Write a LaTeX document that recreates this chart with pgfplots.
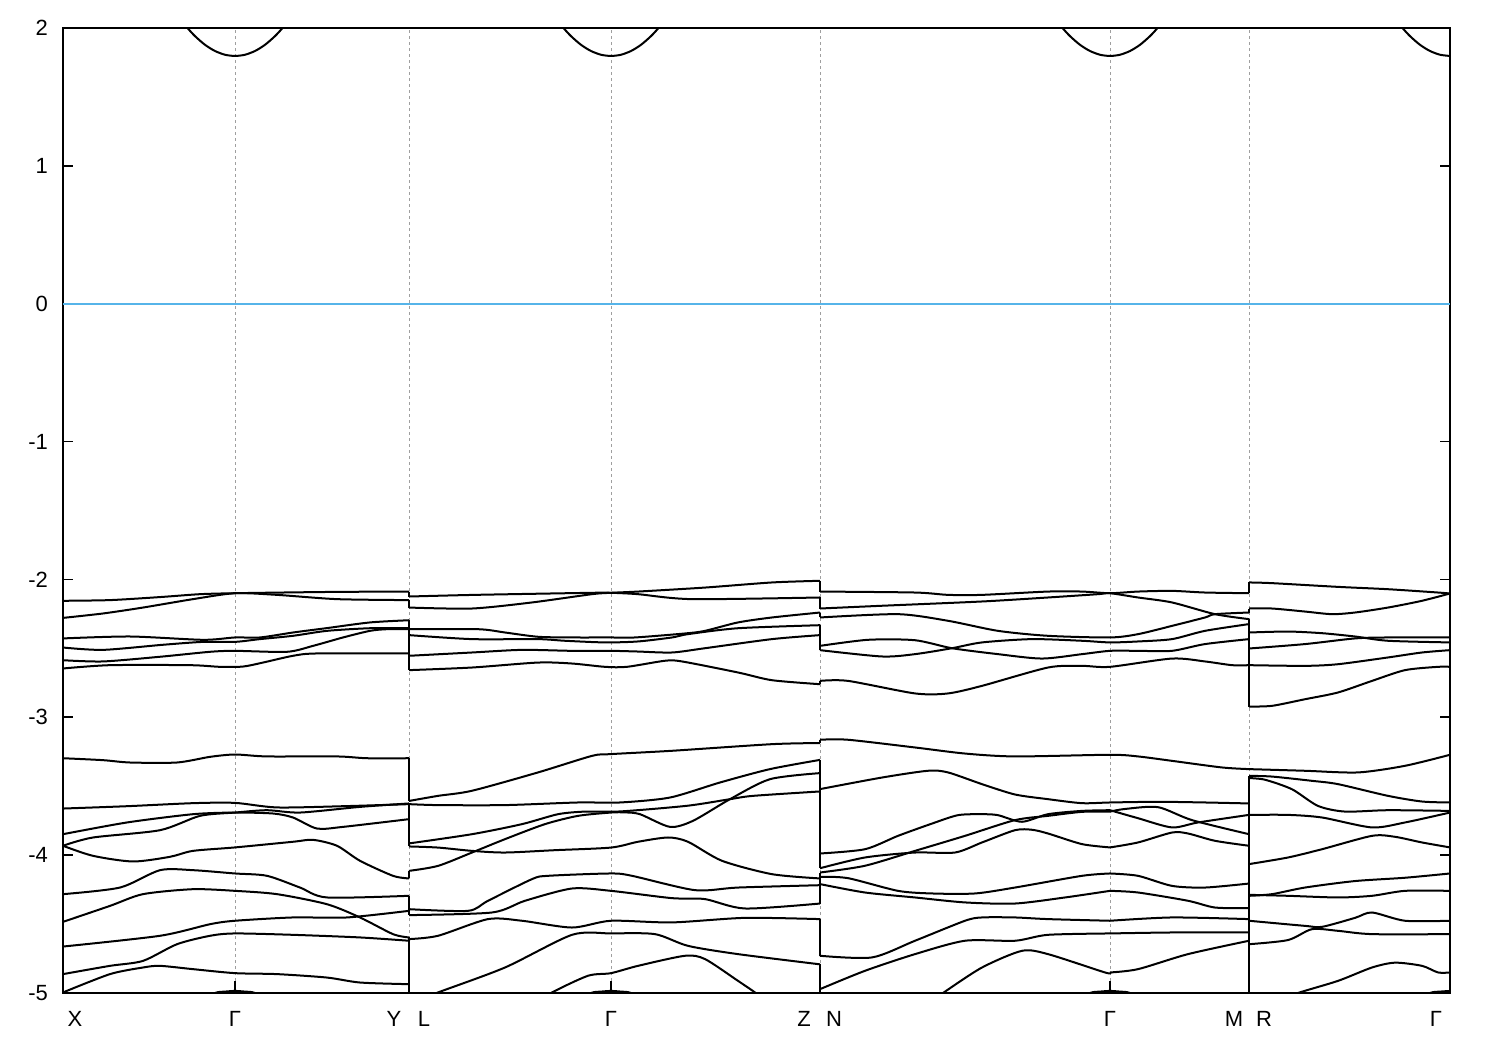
\documentclass[border=0pt]{standalone}
\usepackage{fontspec}
\setmainfont{Liberation Sans}
\usepackage{pgfplots}
\pgfplotsset{compat=1.18}
\definecolor{zeroblue}{RGB}{86,180,233}
\begin{document}
\begin{tikzpicture}
\begin{axis}[
  name=ax,
  scale only axis,
  width=693.5pt, height=482.5pt,
  xmin=63, xmax=1450, ymin=-5, ymax=2,
  axis line style={line width=1.1pt},
  tick style={black, line width=0.8pt},
  tick align=inside,
  ytick={-5,-4,-3,-2,-1,0,1,2},
  yticklabels={-5,-4,-3,-2,-1,0,1,2},
  ytick pos=both,
  major tick length=5pt,
  xtick={75,235,394,424,611,804,834,1110,1234,1264,1436},
  xticklabels={X,Γ,Y,L,Γ,Z,N,Γ,M,R,Γ},
  xtick pos=bottom,
  x tick style={draw=none},
  extra x ticks={235,409,611,820,1110,1249},
  extra x tick labels={},
  extra x tick style={grid=major, x tick style={draw=black, line width=0.8pt}, major tick length=6pt},
  major grid style={draw=gray!75, dash pattern=on 1.5pt off 1.5pt, line width=0.5pt},
  tick label style={font=\fontsize{11}{13}\selectfont},
  xticklabel style={yshift=-5.5pt},
  yticklabel style={xshift=-4pt},
  band/.style={black, line width=1pt, line join=round, smooth, tension=0.45},
  conn/.style={black, line width=1pt},
]
\addplot[zeroblue, line width=0.8pt] coordinates {(63,0)(1450,0)};
% conduction band parabolas
\addplot[band] coordinates {(180,2.07)(187.5,2.0)(195,1.941)(205,1.878)(215,1.833)(225,1.806)(235,1.797)(245,1.806)(255,1.833)(265,1.878)(275,1.941)(282.5,2.0)(290,2.07)};
\addplot[band] coordinates {(556,2.07)(563.5,2.0)(571,1.941)(581,1.878)(591,1.833)(601,1.806)(611,1.797)(621,1.806)(631,1.833)(641,1.878)(651,1.941)(658.5,2.0)(666,2.07)};
\addplot[band] coordinates {(1055,2.07)(1062.5,2.0)(1070,1.941)(1080,1.878)(1090,1.833)(1100,1.806)(1110,1.797)(1120,1.806)(1130,1.833)(1140,1.878)(1150,1.941)(1157.5,2.0)(1165,2.07)};
\addplot[band] coordinates {(1395,2.07)(1402.5,2.0)(1410,1.941)(1420,1.878)(1430,1.833)(1440,1.806)(1450,1.797)};
% ---------- segment X-Gamma-Y
\addplot[band] coordinates {(63,-2.155)(110,-2.150)(160,-2.128)(200,-2.107)(235,-2.100)(293,-2.094)(343,-2.090)(409,-2.088)};
\addplot[band] coordinates {(63,-2.279)(103,-2.247)(143,-2.204)(193,-2.143)(235,-2.100)(277,-2.112)(337,-2.143)(409,-2.150)};
\addplot[band] coordinates {(63,-2.428)(130,-2.414)(203,-2.438)(235,-2.421)(260,-2.421)(293,-2.385)(327,-2.353)(370,-2.312)(409,-2.296)};
\addplot[band] coordinates {(63,-2.494)(103,-2.511)(163,-2.474)(203,-2.453)(235,-2.453)(260,-2.433)(293,-2.409)(327,-2.373)(370,-2.354)(409,-2.354)};
\addplot[band] coordinates {(63,-2.586)(103,-2.595)(160,-2.561)(210,-2.525)(235,-2.518)(287,-2.525)(313,-2.482)(343,-2.421)(370,-2.373)(387,-2.361)(409,-2.361)};
\addplot[band] coordinates {(63,-2.646)(110,-2.622)(190,-2.622)(220,-2.634)(243,-2.632)(263,-2.603)(293,-2.554)(317,-2.537)(409,-2.537)};
\addplot[band] coordinates {(63,-3.297)(103,-3.311)(130,-3.328)(177,-3.328)(210,-3.287)(235,-3.270)(267,-3.284)(337,-3.284)(367,-3.297)(409,-3.297)};
\addplot[band] coordinates {(63,-3.662)(127,-3.645)(193,-3.623)(235,-3.621)(277,-3.654)(343,-3.645)(409,-3.630)};
\addplot[band] coordinates {(63,-3.932)(93,-3.872)(160,-3.819)(200,-3.715)(235,-3.691)(267,-3.674)(300,-3.691)(360,-3.650)(409,-3.625)};
\addplot[band] coordinates {(63,-3.848)(127,-3.763)(193,-3.703)(235,-3.691)(273,-3.698)(293,-3.727)(317,-3.807)(343,-3.795)(409,-3.739)};
\addplot[band] coordinates {(63,-3.932)(93,-4.005)(133,-4.046)(170,-4.012)(193,-3.969)(235,-3.944)(293,-3.903)(313,-3.889)(337,-3.932)(360,-4.041)(393,-4.150)(409,-4.169)};
\addplot[band] coordinates {(63,-4.283)(120,-4.235)(160,-4.109)(193,-4.109)(235,-4.133)(267,-4.150)(300,-4.235)(327,-4.307)(409,-4.295)};
\addplot[band] coordinates {(63,-4.484)(110,-4.368)(143,-4.283)(193,-4.247)(235,-4.259)(277,-4.283)(327,-4.356)(360,-4.452)(393,-4.573)(409,-4.597)};
\addplot[band] coordinates {(63,-4.663)(160,-4.585)(210,-4.501)(235,-4.476)(293,-4.452)(347,-4.452)(409,-4.404)};
\addplot[band] coordinates {(63,-4.863)(110,-4.803)(143,-4.767)(177,-4.646)(210,-4.585)(235,-4.568)(293,-4.578)(360,-4.597)(409,-4.621)};
\addplot[band] coordinates {(63,-4.996)(110,-4.863)(143,-4.815)(160,-4.803)(193,-4.827)(235,-4.856)(277,-4.863)(327,-4.888)(360,-4.924)(409,-4.936)};
\addplot[band] coordinates {(195,-5.08)(215,-5.0)(225,-4.99)(235,-4.985)(245,-4.99)(255,-5.0)(275,-5.08)};
% connectors at Y|L
\addplot[conn] coordinates {(409,-2.088)(409,-2.124)};
\addplot[conn] coordinates {(409,-2.150)(409,-2.204)};
\addplot[conn] coordinates {(409,-2.296)(409,-2.658)};
\addplot[conn] coordinates {(409,-3.297)(409,-3.607)};
\addplot[conn] coordinates {(409,-3.625)(409,-3.937)};
\addplot[conn] coordinates {(409,-4.114)(409,-4.169)};
\addplot[conn] coordinates {(409,-4.295)(409,-4.435)};
\addplot[conn] coordinates {(409,-4.597)(409,-5.0)};
% ---------- segment L-Gamma-Z
\addplot[band] coordinates {(409,-2.124)(475,-2.112)(592,-2.097)(611,-2.097)(638,-2.107)(692,-2.143)(820,-2.131)};
\addplot[band] coordinates {(409,-2.204)(472,-2.211)(532,-2.167)(592,-2.107)(611,-2.097)(638,-2.088)(705,-2.059)(772,-2.022)(820,-2.010)};
\addplot[band] coordinates {(409,-2.361)(478,-2.361)(505,-2.385)(538,-2.416)(572,-2.421)(611,-2.421)(635,-2.421)(685,-2.392)(705,-2.373)(738,-2.312)(772,-2.276)(820,-2.240)};
\addplot[band] coordinates {(409,-2.404)(472,-2.433)(538,-2.433)(565,-2.445)(605,-2.457)(638,-2.450)(672,-2.421)(688,-2.397)(738,-2.354)(820,-2.332)};
\addplot[band] coordinates {(409,-2.554)(472,-2.530)(522,-2.511)(572,-2.518)(611,-2.518)(638,-2.523)(672,-2.530)(705,-2.499)(772,-2.433)(820,-2.404)};
\addplot[band] coordinates {(409,-2.658)(472,-2.639)(538,-2.603)(572,-2.610)(605,-2.634)(627,-2.634)(665,-2.590)(682,-2.595)(738,-2.675)(772,-2.731)(820,-2.760)};
\addplot[band] coordinates {(409,-3.607)(438,-3.570)(472,-3.533)(538,-3.400)(592,-3.280)(611,-3.267)(672,-3.243)(772,-3.195)(820,-3.187)};
\addplot[band] coordinates {(409,-3.630)(438,-3.637)(505,-3.637)(578,-3.618)(620,-3.618)(670,-3.582)(720,-3.473)(770,-3.376)(820,-3.309)};
\addplot[band] coordinates {(409,-3.915)(472,-3.848)(522,-3.775)(558,-3.703)(585,-3.684)(620,-3.683)(687,-3.642)(730,-3.594)(753,-3.570)(820,-3.538)};
\addplot[band] coordinates {(409,-4.114)(438,-4.078)(472,-3.981)(505,-3.884)(545,-3.775)(578,-3.715)(611,-3.691)(625,-3.690)(640,-3.703)(670,-3.795)(693,-3.751)(730,-3.594)(770,-3.449)(820,-3.405)};
\addplot[band] coordinates {(409,-3.937)(438,-3.945)(472,-3.969)(505,-3.981)(555,-3.964)(611,-3.945)(638,-3.903)(668,-3.872)(688,-3.903)(722,-4.041)(772,-4.138)(820,-4.169)};
\addplot[band] coordinates {(409,-4.392)(468,-4.404)(488,-4.331)(532,-4.174)(548,-4.150)(611,-4.133)(632,-4.150)(695,-4.254)(738,-4.235)(820,-4.218)};
\addplot[band] coordinates {(409,-4.435)(492,-4.416)(525,-4.331)(572,-4.242)(611,-4.259)(672,-4.312)(705,-4.319)(745,-4.387)(820,-4.351)};
\addplot[band] coordinates {(409,-4.609)(438,-4.585)(488,-4.464)(522,-4.476)(572,-4.525)(611,-4.476)(672,-4.488)(745,-4.455)(820,-4.464)};
\addplot[band] coordinates {(409,-5.08)(438,-4.996)(505,-4.815)(572,-4.578)(611,-4.568)(655,-4.573)(688,-4.658)(738,-4.718)(820,-4.792)};
\addplot[band] coordinates {(535,-5.08)(552,-4.996)(588,-4.875)(611,-4.856)(638,-4.803)(685,-4.730)(705,-4.754)(738,-4.912)(755,-4.996)(770,-5.08)};
\addplot[band] coordinates {(571,-5.08)(591,-5.0)(601,-4.99)(611,-4.985)(621,-4.99)(631,-5.0)(651,-5.08)};
% connectors at Z|N
\addplot[conn] coordinates {(820,-2.010)(820,-2.088)};
\addplot[conn] coordinates {(820,-2.131)(820,-2.211)};
\addplot[conn] coordinates {(820,-2.240)(820,-2.276)};
\addplot[conn] coordinates {(820,-2.332)(820,-2.513)};
\addplot[conn] coordinates {(820,-2.736)(820,-2.760)};
\addplot[conn] coordinates {(820,-3.163)(820,-3.187)};
\addplot[conn] coordinates {(820,-3.309)(820,-4.095)};
\addplot[conn] coordinates {(820,-4.126)(820,-4.351)};
\addplot[conn] coordinates {(820,-4.464)(820,-4.730)};
\addplot[conn] coordinates {(820,-4.792)(820,-5.0)};
% ---------- segment N-Gamma-M
\addplot[band] coordinates {(820,-2.088)(915,-2.095)(948,-2.112)(982,-2.112)(1048,-2.088)(1082,-2.088)(1110,-2.100)(1138,-2.088)(1172,-2.083)(1205,-2.095)(1249,-2.100)};
\addplot[band] coordinates {(820,-2.211)(882,-2.191)(982,-2.160)(1048,-2.131)(1098,-2.107)(1110,-2.100)(1138,-2.131)(1172,-2.167)(1215,-2.252)(1249,-2.288)};
\addplot[band] coordinates {(820,-2.276)(898,-2.252)(948,-2.300)(998,-2.373)(1048,-2.409)(1110,-2.421)(1138,-2.397)(1172,-2.337)(1205,-2.276)(1215,-2.252)(1249,-2.240)};
\addplot[band] coordinates {(820,-2.482)(868,-2.438)(915,-2.441)(952,-2.499)(998,-2.542)(1042,-2.574)(1082,-2.542)(1110,-2.518)(1138,-2.518)(1172,-2.518)(1205,-2.469)(1249,-2.433)};
\addplot[band] coordinates {(820,-2.513)(882,-2.559)(915,-2.542)(952,-2.499)(982,-2.457)(1032,-2.433)(1082,-2.445)(1110,-2.457)(1138,-2.450)(1172,-2.433)(1205,-2.373)(1249,-2.324)};
\addplot[band] coordinates {(820,-2.736)(848,-2.736)(915,-2.827)(948,-2.827)(982,-2.772)(1048,-2.639)(1082,-2.627)(1110,-2.634)(1172,-2.574)(1205,-2.595)(1232,-2.622)(1249,-2.622)};
\addplot[band] coordinates {(820,-3.163)(848,-3.163)(915,-3.219)(965,-3.263)(1015,-3.284)(1110,-3.272)(1138,-3.284)(1172,-3.316)(1222,-3.364)(1249,-3.376)};
\addplot[band] coordinates {(820,-3.521)(882,-3.437)(928,-3.388)(948,-3.400)(982,-3.485)(1015,-3.560)(1048,-3.594)(1082,-3.623)(1110,-3.618)(1158,-3.613)(1205,-3.618)(1249,-3.625)};
\addplot[band] coordinates {(820,-3.988)(865,-3.957)(898,-3.860)(932,-3.771)(958,-3.710)(982,-3.703)(998,-3.710)(1022,-3.758)(1048,-3.703)(1082,-3.679)(1110,-3.674)};
\addplot[band] coordinates {(820,-4.095)(865,-4.017)(915,-3.981)(955,-3.981)(982,-3.908)(1015,-3.819)(1032,-3.816)(1048,-3.843)(1082,-3.920)(1110,-3.944)};
\addplot[band] coordinates {(820,-4.126)(865,-4.077)(915,-3.969)(965,-3.860)(1015,-3.746)(1048,-3.715)(1082,-3.686)(1110,-3.684)};
\addplot[band] coordinates {(820,-4.157)(848,-4.167)(898,-4.259)(932,-4.278)(975,-4.278)(1015,-4.235)(1082,-4.150)(1110,-4.133)};
\addplot[band] coordinates {(820,-4.210)(865,-4.271)(915,-4.307)(965,-4.343)(1015,-4.351)(1065,-4.307)(1110,-4.259)};
\addplot[band] coordinates {(820,-4.730)(872,-4.742)(915,-4.621)(965,-4.476)(982,-4.452)(1015,-4.452)(1048,-4.464)(1110,-4.476)};
\addplot[band] coordinates {(820,-4.972)(865,-4.839)(915,-4.718)(965,-4.621)(1015,-4.621)(1048,-4.578)(1110,-4.568)};
\addplot[band] coordinates {(928,-5.08)(943,-5.0)(982,-4.815)(1022,-4.694)(1048,-4.718)(1105,-4.851)(1110,-4.851)};
\addplot[band] coordinates {(1110,-3.684)(1125,-3.665)(1158,-3.652)(1192,-3.746)(1249,-3.848)};
\addplot[band] coordinates {(1110,-3.674)(1138,-3.732)(1172,-3.799)(1198,-3.763)(1249,-3.708)};
\addplot[band] coordinates {(1110,-3.944)(1138,-3.908)(1172,-3.836)(1188,-3.843)(1215,-3.896)(1249,-3.932)};
\addplot[band] coordinates {(1110,-4.133)(1138,-4.150)(1172,-4.223)(1205,-4.235)(1249,-4.206)};
\addplot[band] coordinates {(1110,-4.259)(1138,-4.271)(1188,-4.331)(1215,-4.380)(1249,-4.385)};
\addplot[band] coordinates {(1110,-4.476)(1172,-4.452)(1249,-4.464)};
\addplot[band] coordinates {(1110,-4.568)(1172,-4.561)(1249,-4.561)};
\addplot[band] coordinates {(1110,-4.851)(1138,-4.827)(1188,-4.718)(1249,-4.621)};
\addplot[band] coordinates {(1070,-5.08)(1090,-5.0)(1100,-4.99)(1110,-4.985)(1120,-4.99)(1130,-5.0)(1150,-5.08)};
% connectors at M|R
\addplot[conn] coordinates {(1249,-2.022)(1249,-2.100)};
\addplot[conn] coordinates {(1249,-2.211)(1249,-2.240)};
\addplot[conn] coordinates {(1249,-2.288)(1249,-2.922)};
\addplot[conn] coordinates {(1249,-3.425)(1249,-5.0)};
% ---------- segment R-Gamma
\addplot[band] coordinates {(1249,-2.022)(1272,-2.027)(1338,-2.054)(1388,-2.071)(1438,-2.095)(1450,-2.102)};
\addplot[band] coordinates {(1249,-2.211)(1272,-2.211)(1305,-2.233)(1332,-2.252)(1355,-2.240)(1388,-2.204)(1422,-2.155)(1450,-2.102)};
\addplot[band] coordinates {(1249,-2.385)(1288,-2.378)(1322,-2.390)(1355,-2.414)(1388,-2.445)(1450,-2.457)};
\addplot[band] coordinates {(1249,-2.501)(1305,-2.469)(1355,-2.428)(1388,-2.421)(1450,-2.421)};
\addplot[band] coordinates {(1249,-2.622)(1305,-2.627)(1338,-2.615)(1388,-2.566)(1422,-2.530)(1450,-2.513)};
\addplot[band] coordinates {(1249,-2.922)(1272,-2.917)(1305,-2.869)(1338,-2.820)(1372,-2.736)(1405,-2.658)(1438,-2.634)(1450,-2.634)};
\addplot[band] coordinates {(1249,-3.376)(1305,-3.388)(1358,-3.400)(1405,-3.352)(1450,-3.272)};
\addplot[band] coordinates {(1249,-3.425)(1272,-3.430)(1312,-3.461)(1338,-3.485)(1388,-3.570)(1422,-3.611)(1450,-3.618)};
\addplot[band] coordinates {(1249,-3.441)(1265,-3.453)(1292,-3.522)(1318,-3.643)(1345,-3.684)(1388,-3.674)(1450,-3.679)};
\addplot[band] coordinates {(1249,-3.708)(1288,-3.708)(1322,-3.727)(1372,-3.799)(1405,-3.763)(1450,-3.691)};
\addplot[band] coordinates {(1249,-4.065)(1288,-4.017)(1322,-3.957)(1372,-3.860)(1395,-3.867)(1422,-3.908)(1450,-3.944)};
\addplot[band] coordinates {(1249,-4.295)(1272,-4.283)(1305,-4.235)(1355,-4.188)(1405,-4.164)(1450,-4.133)};
\addplot[band] coordinates {(1249,-4.288)(1288,-4.295)(1338,-4.307)(1372,-4.295)(1405,-4.259)(1450,-4.259)};
\addplot[band] coordinates {(1249,-4.476)(1305,-4.513)(1322,-4.520)(1355,-4.455)(1372,-4.416)(1405,-4.476)(1450,-4.476)};
\addplot[band] coordinates {(1249,-4.646)(1288,-4.616)(1312,-4.537)(1338,-4.549)(1372,-4.573)(1450,-4.573)};
\addplot[band] coordinates {(1270,-5.08)(1298,-5.0)(1338,-4.912)(1372,-4.815)(1395,-4.780)(1422,-4.803)(1438,-4.851)(1450,-4.851)};
\addplot[band] coordinates {(1410,-5.08)(1430,-5.0)(1440,-4.99)(1450,-4.985)};
\end{axis}
\pgfresetboundingbox
\path[use as bounding box] ([xshift=-31.5pt,yshift=-28.5pt]ax.south west) rectangle ([xshift=25pt,yshift=14pt]ax.north east);
\end{tikzpicture}
\end{document}
